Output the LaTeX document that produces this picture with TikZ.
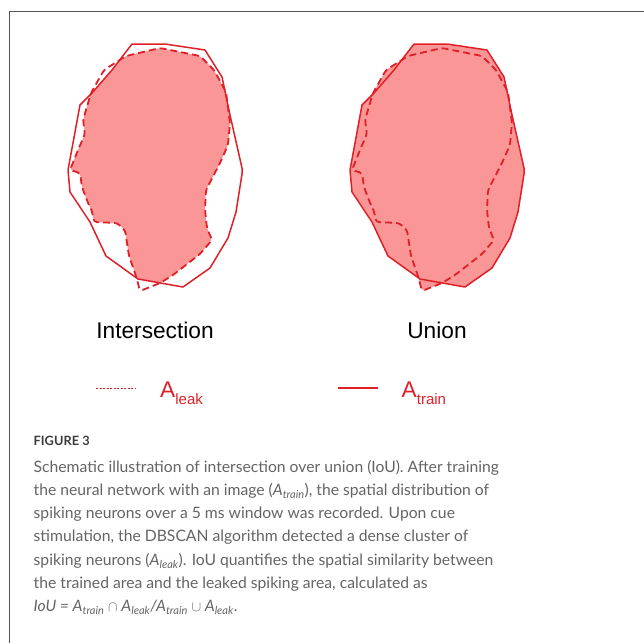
\documentclass[tikz,border=0pt]{standalone}
\usepackage{fontspec}
\setmainfont{Liberation Sans}
\newfontfamily\capfont{Lato}
\usepackage{tikz}
\usetikzlibrary{positioning}
\definecolor{iouRed}{RGB}{222,32,40}
\definecolor{iouPink}{RGB}{250,150,150}
\definecolor{frameGrey}{RGB}{85,85,85}
\definecolor{capGrey}{RGB}{100,100,100}
\definecolor{numGrey}{RGB}{60,60,60}

\begin{document}
\begin{tikzpicture}[
    x=1pt, y=-1pt,
    trainarea/.style={insert path={(132,44) -- (165,44) -- (205,50) -- (222,77) -- (230,115) -- (242,168)
      -- (242,174) -- (236,212) -- (228,238) -- (210,268) -- (183,287) -- (138,279) -- (106,256)
      -- (90,222) -- (70,192) -- (68,170) -- (80,105) -- (92,93) -- (112,70) -- cycle}},
    leakarea/.style={insert path={[rounded corners=3pt] (70,170) -- (80,173) -- (82,187) -- (88,203) -- (92,211)
      -- (94,222) -- (117,223) -- (125,230) -- (129,256) -- (136,276) -- (140,291) -- (160,283)
      -- (173,275) -- (200,254) -- (212,240) -- (207,228) -- (205,210) -- (206,190) -- (220,163)
      -- (228,145) -- (230,123) -- (226,92) -- (214,70) -- (200,56) -- (160,48) -- (126,56)
      -- (104,70) -- (91,93) -- (83,120) -- (85,134) -- (78,150) -- cycle}},
    pinkfill/.style={fill=iouPink},
    trainline/.style={draw=iouRed, line width=1.5pt, line join=round},
    leakline/.style={draw=iouRed, line width=1.8pt, dash pattern=on 7pt off 4pt},
    legdots/.style={draw=iouRed, line width=1.3pt, dash pattern=on 2pt off 1.5pt},
    setlbl/.style={font=\fontsize{22.7}{27}\selectfont, text=black, inner sep=0pt, anchor=base},
    leglbl/.style={font=\fontsize{22.7}{27}\selectfont, text=iouRed, inner sep=0pt, anchor=base west},
    fignum/.style={font=\capfont\bfseries\fontsize{12.8}{16}\selectfont, text=numGrey, inner sep=0pt, anchor=base west},
    captext/.style={font=\capfont\fontsize{15.7}{23.2}\selectfont, text=capGrey, inner sep=0pt,
                    anchor=north west, align=left}
  ]
  \def\sub#1{\raisebox{-7pt}{\fontsize{15}{17}\selectfont #1}}
  \useasboundingbox (0,0) rectangle (644,643);

  % frame
  \draw[frameGrey, line width=1.2pt] (9.5,643) -- (9.5,11.5) -- (644,11.5);

  % intersection
  \begin{scope}
    \clip[trainarea];
    \fill[pinkfill, leakarea];
  \end{scope}
  \path[trainline, trainarea];
  \path[leakline, leakarea];

  % union
  \begin{scope}[xshift=282pt]
    \fill[pinkfill, trainarea];
    \fill[pinkfill, leakarea];
    \path[trainline, trainarea];
    \path[leakline, leakarea];
  \end{scope}

  \node[setlbl] (inter) at (155,338) {Intersection};
  \node[setlbl] (union) at (437,338) {Union};

  % legend
  \coordinate (lk1) at (96,388.3);
  \coordinate (lk2) at (136,388.3);
  \coordinate (tr1) at (338,388);
  \coordinate (tr2) at (378,388);
  \draw[legdots] (lk1) -- (lk2);
  \draw[trainline] (tr1) -- (tr2);
  \node[leglbl] (legleak) at (160,397) {A\sub{leak}};
  \node[leglbl] (legtrain) at (401.5,397) {A\sub{train}};

  % caption
  \node[fignum] (fig) at (33.5,445) {FIGURE 3};
  \node[captext] (cap) at (33.5,460) {Schematic illustration of intersection over union (IoU). After training\\
    the neural network with an image (\textit{A\textsubscript{train}}), the spatial distribution of\\
    spiking neurons over a 5 ms window was recorded. Upon cue\\
    stimulation, the DBSCAN algorithm detected a dense cluster of\\
    spiking neurons (\textit{A\textsubscript{leak}}). IoU quantifies the spatial similarity between\\
    the trained area and the leaked spiking area, calculated as\\
    \textit{IoU = A\textsubscript{train} $\cap$ A\textsubscript{leak}/A\textsubscript{train} $\cup$ A\textsubscript{leak}}.};
\end{tikzpicture}
\end{document}
